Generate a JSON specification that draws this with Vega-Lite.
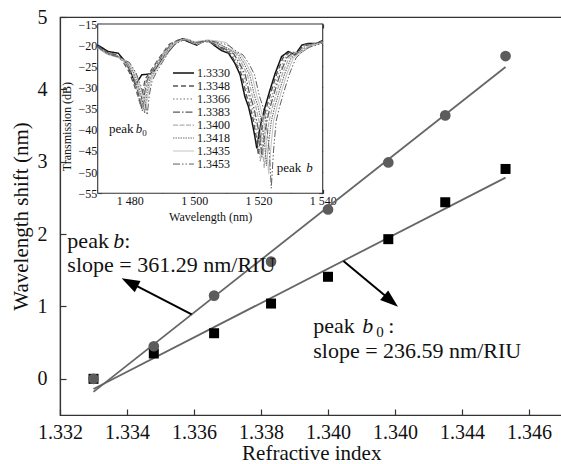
{
"$schema": "https://vega.github.io/schema/vega-lite/v6.json",
"autosize": {"type": "none"},
"padding": {"left": 60, "top": 17, "right": 0, "bottom": 49},
"width": 502.5,
"height": 398,
"background": "white",
"config": {
  "view": {"stroke": "#333", "strokeWidth": 1.2},
  "font": "Liberation Serif",
  "axis": {"grid": false, "domainColor": "#333", "domainWidth": 1.2, "tickColor": "#333", "tickWidth": 1.2, "labelColor": "#111", "titleColor": "#111", "labelFont": "Liberation Serif", "titleFont": "Liberation Serif", "titleFontWeight": "normal", "labelFlush": false, "labelOverlap": false}
},
"datasets": {
  "fits": [
    {"s": "b", "n": 1.3330, "v": -0.18}, {"s": "b", "n": 1.3453, "v": 4.31},
    {"s": "b0", "n": 1.3330, "v": -0.14}, {"s": "b0", "n": 1.3453, "v": 2.78}
  ],
  "pts": [
    {"n": 1.3330, "b": 0, "b0": 0},
    {"n": 1.3348, "b": 0.45, "b0": 0.35},
    {"n": 1.3366, "b": 1.15, "b0": 0.63},
    {"n": 1.3383, "b": 1.62, "b0": 1.04},
    {"n": 1.3400, "b": 2.34, "b0": 1.41},
    {"n": 1.3418, "b": 2.99, "b0": 1.93},
    {"n": 1.3435, "b": 3.64, "b0": 2.44},
    {"n": 1.3453, "b": 4.46, "b0": 2.90}
  ],
  "spec": [
    {"n":"1.3330","w":1470,"t":-20},{"n":"1.3330","w":1473.3,"t":-21.5},{"n":"1.3330","w":1476.4,"t":-21.9},{"n":"1.3330","w":1479,"t":-24.3},{"n":"1.3330","w":1480.6,"t":-27},{"n":"1.3330","w":1481.8,"t":-29.4},{"n":"1.3330","w":1482.4,"t":-28.6},{"n":"1.3330","w":1483.7,"t":-27},{"n":"1.3330","w":1486.3,"t":-26.8},{"n":"1.3330","w":1487.8,"t":-25.9},{"n":"1.3330","w":1489.9,"t":-23.5},{"n":"1.3330","w":1492.5,"t":-21},{"n":"1.3330","w":1494.6,"t":-19.2},{"n":"1.3330","w":1496.3,"t":-18.5},{"n":"1.3330","w":1498.2,"t":-19.2},{"n":"1.3330","w":1500.8,"t":-20},{"n":"1.3330","w":1502.4,"t":-19.2},{"n":"1.3330","w":1504.4,"t":-18.9},{"n":"1.3330","w":1506.5,"t":-20.2},{"n":"1.3330","w":1508.6,"t":-21.3},{"n":"1.3330","w":1510.7,"t":-21.9},{"n":"1.3330","w":1512.7,"t":-24.3},{"n":"1.3330","w":1514.3,"t":-27},{"n":"1.3330","w":1515.8,"t":-32.2},{"n":"1.3330","w":1516.9,"t":-34.5},{"n":"1.3330","w":1517.9,"t":-37.7},{"n":"1.3330","w":1518.9,"t":-41.6},{"n":"1.3330","w":1519.5,"t":-44.4},{"n":"1.3330","w":1520.2,"t":-40.8},{"n":"1.3330","w":1521,"t":-37.7},{"n":"1.3330","w":1522.1,"t":-34.5},{"n":"1.3330","w":1523.6,"t":-30.6},{"n":"1.3330","w":1525.2,"t":-26.7},{"n":"1.3330","w":1527.2,"t":-22.7},{"n":"1.3330","w":1529.3,"t":-21.5},{"n":"1.3330","w":1531.4,"t":-22.3},{"n":"1.3330","w":1533.5,"t":-20},{"n":"1.3330","w":1535.5,"t":-19.6},{"n":"1.3330","w":1538.1,"t":-19.6},{"n":"1.3330","w":1540,"t":-18.9},

    {"n":"1.3348","w":1470,"t":-20.2},{"n":"1.3348","w":1473,"t":-21.8},{"n":"1.3348","w":1476,"t":-22.3},{"n":"1.3348","w":1477.8,"t":-23.8},{"n":"1.3348","w":1479.8,"t":-26.3},{"n":"1.3348","w":1481.3,"t":-29.3},{"n":"1.3348","w":1482.3,"t":-31.5},{"n":"1.3348","w":1483.3,"t":-34},{"n":"1.3348","w":1484.0,"t":-31},{"n":"1.3348","w":1484.8,"t":-28},{"n":"1.3348","w":1486.3,"t":-26.3},{"n":"1.3348","w":1488.3,"t":-24},{"n":"1.3348","w":1490.3,"t":-21.8},{"n":"1.3348","w":1492.3,"t":-19.8},{"n":"1.3348","w":1495,"t":-18.8},{"n":"1.3348","w":1497,"t":-18.6},{"n":"1.3348","w":1499,"t":-19.3},{"n":"1.3348","w":1501,"t":-19.8},{"n":"1.3348","w":1503,"t":-19},{"n":"1.3348","w":1505,"t":-19.2},{"n":"1.3348","w":1509.1,"t":-21},{"n":"1.3348","w":1511.2,"t":-22},{"n":"1.3348","w":1513,"t":-24.3},{"n":"1.3348","w":1514.8,"t":-27},{"n":"1.3348","w":1516.3,"t":-32},{"n":"1.3348","w":1517.4,"t":-34.5},{"n":"1.3348","w":1518.4,"t":-37.7},{"n":"1.3348","w":1519.4,"t":-42},{"n":"1.3348","w":1520,"t":-46},{"n":"1.3348","w":1520.7,"t":-41.5},{"n":"1.3348","w":1521.5,"t":-37.7},{"n":"1.3348","w":1522.6,"t":-34.5},{"n":"1.3348","w":1524.1,"t":-30.6},{"n":"1.3348","w":1525.7,"t":-26.7},{"n":"1.3348","w":1527.7,"t":-22.9},{"n":"1.3348","w":1529.8,"t":-21.6},{"n":"1.3348","w":1531.9,"t":-22.2},{"n":"1.3348","w":1534,"t":-20},{"n":"1.3348","w":1536,"t":-19.7},{"n":"1.3348","w":1538,"t":-19.6},{"n":"1.3348","w":1540,"t":-19},

    {"n":"1.3366","w":1470,"t":-20.5},{"n":"1.3366","w":1473,"t":-22},{"n":"1.3366","w":1476,"t":-22.6},{"n":"1.3366","w":1478.1,"t":-23.8},{"n":"1.3366","w":1480.1,"t":-26.2},{"n":"1.3366","w":1481.6,"t":-29.3},{"n":"1.3366","w":1482.6,"t":-31.8},{"n":"1.3366","w":1483.6,"t":-35},{"n":"1.3366","w":1484.3,"t":-31.5},{"n":"1.3366","w":1485.1,"t":-28.2},{"n":"1.3366","w":1486.6,"t":-26.2},{"n":"1.3366","w":1488.6,"t":-24},{"n":"1.3366","w":1490.6,"t":-21.6},{"n":"1.3366","w":1492.6,"t":-19.8},{"n":"1.3366","w":1495,"t":-18.8},{"n":"1.3366","w":1497,"t":-18.5},{"n":"1.3366","w":1499,"t":-19.2},{"n":"1.3366","w":1501,"t":-19.9},{"n":"1.3366","w":1503,"t":-19},{"n":"1.3366","w":1505,"t":-19.3},{"n":"1.3366","w":1509.7,"t":-21},{"n":"1.3366","w":1511.8,"t":-22},{"n":"1.3366","w":1513.6,"t":-24.3},{"n":"1.3366","w":1515.4,"t":-27},{"n":"1.3366","w":1516.9,"t":-32},{"n":"1.3366","w":1518,"t":-34.5},{"n":"1.3366","w":1519,"t":-38},{"n":"1.3366","w":1520,"t":-42.5},{"n":"1.3366","w":1520.6,"t":-47.5},{"n":"1.3366","w":1521.3,"t":-42},{"n":"1.3366","w":1522.1,"t":-38},{"n":"1.3366","w":1523.2,"t":-34.5},{"n":"1.3366","w":1524.7,"t":-30.6},{"n":"1.3366","w":1526.3,"t":-26.7},{"n":"1.3366","w":1528.3,"t":-23},{"n":"1.3366","w":1530.4,"t":-21.7},{"n":"1.3366","w":1532.5,"t":-22},{"n":"1.3366","w":1534.6,"t":-20},{"n":"1.3366","w":1537,"t":-19.8},{"n":"1.3366","w":1540,"t":-19.2},

    {"n":"1.3383","w":1470,"t":-20.3},{"n":"1.3383","w":1473,"t":-21.9},{"n":"1.3383","w":1476,"t":-22.5},{"n":"1.3383","w":1478.4,"t":-23.8},{"n":"1.3383","w":1480.4,"t":-26.3},{"n":"1.3383","w":1481.9,"t":-29.4},{"n":"1.3383","w":1482.9,"t":-32},{"n":"1.3383","w":1483.9,"t":-35.5},{"n":"1.3383","w":1484.6,"t":-31.5},{"n":"1.3383","w":1485.4,"t":-28.3},{"n":"1.3383","w":1486.9,"t":-26.2},{"n":"1.3383","w":1488.9,"t":-24},{"n":"1.3383","w":1490.9,"t":-21.5},{"n":"1.3383","w":1492.9,"t":-19.8},{"n":"1.3383","w":1495,"t":-18.9},{"n":"1.3383","w":1497,"t":-18.6},{"n":"1.3383","w":1499,"t":-19.3},{"n":"1.3383","w":1501,"t":-19.9},{"n":"1.3383","w":1503,"t":-19.1},{"n":"1.3383","w":1505,"t":-19.3},{"n":"1.3383","w":1510.2,"t":-21.1},{"n":"1.3383","w":1512.3,"t":-22},{"n":"1.3383","w":1514.1,"t":-24.3},{"n":"1.3383","w":1515.9,"t":-27},{"n":"1.3383","w":1517.4,"t":-32},{"n":"1.3383","w":1518.5,"t":-34.5},{"n":"1.3383","w":1519.5,"t":-38},{"n":"1.3383","w":1520.5,"t":-42},{"n":"1.3383","w":1521.1,"t":-46.5},{"n":"1.3383","w":1521.8,"t":-42},{"n":"1.3383","w":1522.6,"t":-38},{"n":"1.3383","w":1523.7,"t":-34.5},{"n":"1.3383","w":1525.2,"t":-30.6},{"n":"1.3383","w":1526.8,"t":-26.7},{"n":"1.3383","w":1528.8,"t":-23},{"n":"1.3383","w":1530.9,"t":-21.7},{"n":"1.3383","w":1533,"t":-21.8},{"n":"1.3383","w":1535,"t":-20},{"n":"1.3383","w":1537.5,"t":-19.8},{"n":"1.3383","w":1540,"t":-19.2},

    {"n":"1.3400","w":1470,"t":-20.6},{"n":"1.3400","w":1473,"t":-22.1},{"n":"1.3400","w":1476,"t":-22.7},{"n":"1.3400","w":1478.7,"t":-23.9},{"n":"1.3400","w":1480.7,"t":-26.3},{"n":"1.3400","w":1482.2,"t":-29.3},{"n":"1.3400","w":1483.2,"t":-31.8},{"n":"1.3400","w":1484.2,"t":-35},{"n":"1.3400","w":1484.9,"t":-31.3},{"n":"1.3400","w":1485.7,"t":-28.3},{"n":"1.3400","w":1487.2,"t":-26.2},{"n":"1.3400","w":1489.2,"t":-23.9},{"n":"1.3400","w":1491.2,"t":-21.5},{"n":"1.3400","w":1493.2,"t":-19.7},{"n":"1.3400","w":1495.5,"t":-18.9},{"n":"1.3400","w":1497.5,"t":-18.6},{"n":"1.3400","w":1499.5,"t":-19.4},{"n":"1.3400","w":1501.5,"t":-19.6},{"n":"1.3400","w":1503.5,"t":-19},{"n":"1.3400","w":1505.5,"t":-19.2},{"n":"1.3400","w":1508,"t":-19.8},{"n":"1.3400","w":1510.9,"t":-21.1},{"n":"1.3400","w":1513,"t":-22},{"n":"1.3400","w":1514.8,"t":-24.3},{"n":"1.3400","w":1516.6,"t":-27},{"n":"1.3400","w":1518.1,"t":-32},{"n":"1.3400","w":1519.2,"t":-34.5},{"n":"1.3400","w":1520.2,"t":-38},{"n":"1.3400","w":1521.2,"t":-43},{"n":"1.3400","w":1521.8,"t":-49},{"n":"1.3400","w":1522.5,"t":-43},{"n":"1.3400","w":1523.3,"t":-38},{"n":"1.3400","w":1524.4,"t":-34.5},{"n":"1.3400","w":1525.9,"t":-30.6},{"n":"1.3400","w":1527.5,"t":-26.7},{"n":"1.3400","w":1529.5,"t":-23},{"n":"1.3400","w":1531.6,"t":-21.7},{"n":"1.3400","w":1533.7,"t":-21.6},{"n":"1.3400","w":1535.8,"t":-20},{"n":"1.3400","w":1538,"t":-19.8},{"n":"1.3400","w":1540,"t":-19.3},

    {"n":"1.3418","w":1470,"t":-20.4},{"n":"1.3418","w":1473,"t":-22},{"n":"1.3418","w":1476,"t":-22.6},{"n":"1.3418","w":1479.1,"t":-24},{"n":"1.3418","w":1481.1,"t":-26.4},{"n":"1.3418","w":1482.6,"t":-29.4},{"n":"1.3418","w":1483.6,"t":-32},{"n":"1.3418","w":1484.6,"t":-36},{"n":"1.3418","w":1485.3,"t":-31.5},{"n":"1.3418","w":1486.1,"t":-28.4},{"n":"1.3418","w":1487.6,"t":-26.2},{"n":"1.3418","w":1489.6,"t":-23.8},{"n":"1.3418","w":1491.6,"t":-21.4},{"n":"1.3418","w":1493.6,"t":-19.7},{"n":"1.3418","w":1495.8,"t":-18.9},{"n":"1.3418","w":1497.8,"t":-18.6},{"n":"1.3418","w":1500,"t":-19.5},{"n":"1.3418","w":1502,"t":-19.4},{"n":"1.3418","w":1504,"t":-19},{"n":"1.3418","w":1506,"t":-19.3},{"n":"1.3418","w":1508.5,"t":-20},{"n":"1.3418","w":1511.6,"t":-21.2},{"n":"1.3418","w":1513.7,"t":-22.1},{"n":"1.3418","w":1515.5,"t":-24.3},{"n":"1.3418","w":1517.3,"t":-27},{"n":"1.3418","w":1518.8,"t":-32},{"n":"1.3418","w":1519.9,"t":-34.5},{"n":"1.3418","w":1520.9,"t":-38},{"n":"1.3418","w":1521.9,"t":-43},{"n":"1.3418","w":1522.5,"t":-48.5},{"n":"1.3418","w":1523.2,"t":-43},{"n":"1.3418","w":1524,"t":-38},{"n":"1.3418","w":1525.1,"t":-34.5},{"n":"1.3418","w":1526.6,"t":-30.6},{"n":"1.3418","w":1528.2,"t":-26.7},{"n":"1.3418","w":1530.2,"t":-23},{"n":"1.3418","w":1532.3,"t":-21.7},{"n":"1.3418","w":1534.4,"t":-21.2},{"n":"1.3418","w":1536.5,"t":-20},{"n":"1.3418","w":1538.5,"t":-19.8},{"n":"1.3418","w":1540,"t":-19.3},

    {"n":"1.3435","w":1470,"t":-20.7},{"n":"1.3435","w":1473,"t":-22.2},{"n":"1.3435","w":1476,"t":-22.8},{"n":"1.3435","w":1479.5,"t":-24},{"n":"1.3435","w":1481.5,"t":-26.4},{"n":"1.3435","w":1483,"t":-29.3},{"n":"1.3435","w":1484,"t":-31.8},{"n":"1.3435","w":1485,"t":-35},{"n":"1.3435","w":1485.7,"t":-31.3},{"n":"1.3435","w":1486.5,"t":-28.3},{"n":"1.3435","w":1488,"t":-26.1},{"n":"1.3435","w":1490,"t":-23.7},{"n":"1.3435","w":1492,"t":-21.3},{"n":"1.3435","w":1494,"t":-19.6},{"n":"1.3435","w":1496,"t":-18.9},{"n":"1.3435","w":1498,"t":-18.6},{"n":"1.3435","w":1500,"t":-19.2},{"n":"1.3435","w":1502,"t":-19},{"n":"1.3435","w":1504,"t":-18.8},{"n":"1.3435","w":1506,"t":-18.9},{"n":"1.3435","w":1508,"t":-19.1},{"n":"1.3435","w":1510,"t":-19.4},{"n":"1.3435","w":1512.3,"t":-21.3},{"n":"1.3435","w":1514.4,"t":-22.2},{"n":"1.3435","w":1516.2,"t":-24.3},{"n":"1.3435","w":1518,"t":-27},{"n":"1.3435","w":1519.5,"t":-32},{"n":"1.3435","w":1520.6,"t":-34.5},{"n":"1.3435","w":1521.6,"t":-38},{"n":"1.3435","w":1522.6,"t":-44},{"n":"1.3435","w":1523.2,"t":-50.5},{"n":"1.3435","w":1523.9,"t":-44},{"n":"1.3435","w":1524.7,"t":-38},{"n":"1.3435","w":1525.8,"t":-34.5},{"n":"1.3435","w":1527.3,"t":-30.6},{"n":"1.3435","w":1528.9,"t":-26.7},{"n":"1.3435","w":1530.9,"t":-23},{"n":"1.3435","w":1533,"t":-21.7},{"n":"1.3435","w":1535,"t":-20.8},{"n":"1.3435","w":1537,"t":-20},{"n":"1.3435","w":1540,"t":-19.5},

    {"n":"1.3453","w":1470,"t":-20.5},{"n":"1.3453","w":1473,"t":-22.1},{"n":"1.3453","w":1476,"t":-22.7},{"n":"1.3453","w":1479.9,"t":-24.1},{"n":"1.3453","w":1481.9,"t":-26.5},{"n":"1.3453","w":1483.4,"t":-29.5},{"n":"1.3453","w":1484.4,"t":-32.2},{"n":"1.3453","w":1485.4,"t":-36.5},{"n":"1.3453","w":1486.1,"t":-31.6},{"n":"1.3453","w":1486.9,"t":-28.5},{"n":"1.3453","w":1488.4,"t":-26.2},{"n":"1.3453","w":1490.4,"t":-23.7},{"n":"1.3453","w":1492.4,"t":-21.3},{"n":"1.3453","w":1494.4,"t":-19.6},{"n":"1.3453","w":1496.4,"t":-18.9},{"n":"1.3453","w":1498.4,"t":-18.7},{"n":"1.3453","w":1500.5,"t":-19.4},{"n":"1.3453","w":1502.5,"t":-19.1},{"n":"1.3453","w":1504.5,"t":-18.9},{"n":"1.3453","w":1506.5,"t":-19.2},{"n":"1.3453","w":1509,"t":-19.6},{"n":"1.3453","w":1511,"t":-20.2},{"n":"1.3453","w":1513.1,"t":-21.4},{"n":"1.3453","w":1515.2,"t":-22.3},{"n":"1.3453","w":1517,"t":-24.3},{"n":"1.3453","w":1518.8,"t":-27},{"n":"1.3453","w":1520.3,"t":-32},{"n":"1.3453","w":1521.4,"t":-34.5},{"n":"1.3453","w":1522.4,"t":-38},{"n":"1.3453","w":1523.4,"t":-45},{"n":"1.3453","w":1524,"t":-53.8},{"n":"1.3453","w":1524.7,"t":-45},{"n":"1.3453","w":1525.5,"t":-38},{"n":"1.3453","w":1526.6,"t":-34.5},{"n":"1.3453","w":1528.1,"t":-30.6},{"n":"1.3453","w":1529.7,"t":-26.7},{"n":"1.3453","w":1531.7,"t":-23},{"n":"1.3453","w":1533.8,"t":-21.5},{"n":"1.3453","w":1535.8,"t":-20.5},{"n":"1.3453","w":1538,"t":-20},{"n":"1.3453","w":1540,"t":-19.5}
  ]
},
"layer": [
  {
    "layer": [
      {"data": {"name": "fits"}, "mark": {"type": "line", "color": "#666", "strokeWidth": 1.8},
       "encoding": {
         "x": {"field": "n", "type": "quantitative", "scale": {"domain": [1.332, 1.347], "nice": false, "zero": false},
           "axis": {"orient": "bottom", "values": [1.332, 1.334, 1.336, 1.338, 1.340, 1.342, 1.344, 1.346], "labelExpr": "abs(datum.value - 1.342) < 0.0001 ? '1.340' : format(datum.value, '.3f')", "title": "Refractive index", "tickSize": -6, "labelPadding": 13, "labelFontSize": 20, "titleFontSize": 21, "titleY": 27.3, "titleBaseline": "top"}},
         "y": {"field": "v", "type": "quantitative", "scale": {"domain": [-0.5, 5], "nice": false, "zero": false},
           "axis": {"orient": "left", "values": [0, 1, 2, 3, 4, 5], "format": "d", "title": "Wavelength shift (nm)", "tickSize": -6, "labelPadding": 19, "labelFontSize": 20, "titleFontSize": 21, "titleX": -28.6, "titleY": 199}},
         "detail": {"field": "s"}
       }},
      {"data": {"name": "pts"}, "mark": {"type": "point", "shape": "square", "filled": true, "color": "#000", "size": 100, "opacity": 1},
       "encoding": {"x": {"field": "n", "type": "quantitative"}, "y": {"field": "b0", "type": "quantitative"}}},
      {"data": {"name": "pts"}, "mark": {"type": "circle", "color": "#5c5c5c", "size": 115, "opacity": 1},
       "encoding": {"x": {"field": "n", "type": "quantitative"}, "y": {"field": "b", "type": "quantitative"}}},
      {"data": {"values": [{}]}, "mark": {"type": "rule", "color": "#000", "strokeWidth": 2},
       "encoding": {"x": {"datum": 1.33593, "type": "quantitative"}, "y": {"datum": 0.891, "type": "quantitative"}, "x2": {"datum": 1.33411}, "y2": {"datum": 1.327}}},
      {"data": {"values": [{}]}, "mark": {"type": "rule", "color": "#000", "strokeWidth": 2},
       "encoding": {"x": {"datum": 1.34046, "type": "quantitative"}, "y": {"datum": 1.628, "type": "quantitative"}, "x2": {"datum": 1.34187}, "y2": {"datum": 1.085}}},
      {"data": {"values": [{}]}, "mark": {"type": "point", "shape": "M0,0L-0.7,2L0.7,2Z", "filled": true, "color": "#000", "opacity": 1, "size": 324, "angle": 297.2, "strokeWidth": 0},
       "encoding": {"x": {"datum": 1.33384, "type": "quantitative"}, "y": {"datum": 1.389, "type": "quantitative"}}},
      {"data": {"values": [{}]}, "mark": {"type": "point", "shape": "M0,0L-0.7,2L0.7,2Z", "filled": true, "color": "#000", "opacity": 1, "size": 324, "angle": 129.7, "strokeWidth": 0},
       "encoding": {"x": {"datum": 1.34209, "type": "quantitative"}, "y": {"datum": 0.996, "type": "quantitative"}}},
      {"data": {"values": [{}]}, "mark": {"type": "text", "text": "peak", "align": "left", "baseline": "alphabetic", "fontSize": 22, "color": "#111"},
       "encoding": {"x": {"datum": 1.33222, "type": "quantitative"}, "y": {"datum": 1.808, "type": "quantitative"}}},
      {"data": {"values": [{}]}, "mark": {"type": "text", "text": "b", "fontStyle": "italic", "align": "left", "baseline": "alphabetic", "fontSize": 22, "color": "#111", "dx": 46},
       "encoding": {"x": {"datum": 1.33222, "type": "quantitative"}, "y": {"datum": 1.808, "type": "quantitative"}}},
      {"data": {"values": [{}]}, "mark": {"type": "text", "text": ":", "align": "left", "baseline": "alphabetic", "fontSize": 22, "color": "#111", "dx": 57},
       "encoding": {"x": {"datum": 1.33222, "type": "quantitative"}, "y": {"datum": 1.808, "type": "quantitative"}}},
      {"data": {"values": [{}]}, "mark": {"type": "text", "text": "slope = 361.29 nm/RIU", "align": "left", "baseline": "alphabetic", "fontSize": 22, "color": "#111"},
       "encoding": {"x": {"datum": 1.33222, "type": "quantitative"}, "y": {"datum": 1.48, "type": "quantitative"}}},
      {"data": {"values": [{}]}, "mark": {"type": "text", "text": "peak", "align": "left", "baseline": "alphabetic", "fontSize": 22, "color": "#111"},
       "encoding": {"x": {"datum": 1.33956, "type": "quantitative"}, "y": {"datum": 0.629, "type": "quantitative"}}},
      {"data": {"values": [{}]}, "mark": {"type": "text", "text": "b", "fontStyle": "italic", "align": "left", "baseline": "alphabetic", "fontSize": 22, "color": "#111", "dx": 49},
       "encoding": {"x": {"datum": 1.33956, "type": "quantitative"}, "y": {"datum": 0.629, "type": "quantitative"}}},
      {"data": {"values": [{}]}, "mark": {"type": "text", "text": "0", "align": "left", "baseline": "alphabetic", "fontSize": 15, "color": "#111", "dx": 63, "dy": 4},
       "encoding": {"x": {"datum": 1.33956, "type": "quantitative"}, "y": {"datum": 0.629, "type": "quantitative"}}},
      {"data": {"values": [{}]}, "mark": {"type": "text", "text": ":", "align": "left", "baseline": "alphabetic", "fontSize": 22, "color": "#111", "dx": 75},
       "encoding": {"x": {"datum": 1.33956, "type": "quantitative"}, "y": {"datum": 0.629, "type": "quantitative"}}},
      {"data": {"values": [{}]}, "mark": {"type": "text", "text": "slope = 236.59 nm/RIU", "align": "left", "baseline": "alphabetic", "fontSize": 22, "color": "#111"},
       "encoding": {"x": {"datum": 1.33956, "type": "quantitative"}, "y": {"datum": 0.283, "type": "quantitative"}}}
    ]
  },
  {
    "layer": [
      {"data": {"values": [{}]}, "mark": {"type": "rect", "fill": "white", "stroke": "#333", "strokeWidth": 1.1},
       "encoding": {
         "x": {"datum": 1470, "type": "quantitative", "scale": {"domain": [1470, 1540], "range": [37.7, 262.7], "nice": false, "zero": false},
           "axis": {"orient": "top", "offset": -7, "values": [1470, 1480, 1490, 1500, 1510, 1520, 1530, 1540], "labels": false, "tickSize": -4, "title": null, "domain": false}},
         "x2": {"datum": 1540},
         "y": {"datum": -55, "type": "quantitative", "scale": {"domain": [-55, -15], "range": [176.3, 7], "nice": false, "zero": false},
           "axis": {"orient": "right", "offset": -239.8, "values": [-55, -50, -45, -40, -35, -30, -25, -20, -15], "labels": false, "tickSize": -4, "title": null, "domain": false}},
         "y2": {"datum": -15}
       }},
      {"data": {"name": "spec"}, "mark": {"type": "line", "interpolate": "linear"},
       "encoding": {
         "x": {"field": "w", "type": "quantitative",
           "axis": {"orient": "bottom", "offset": -221.7, "values": [1470, 1480, 1490, 1500, 1510, 1520, 1530, 1540], "labelExpr": "datum.value % 20 == 0 ? substring(toString(datum.value), 0, 1) + ' ' + substring(toString(datum.value), 1) : ''", "tickSize": -4, "labelPadding": 6, "labelFontSize": 12, "title": "Wavelength (nm)", "titleFontSize": 12, "titleY": 18.5, "titleBaseline": "top", "domain": false}},
         "y": {"field": "t", "type": "quantitative",
           "axis": {"orient": "left", "offset": -37.7, "values": [-55, -50, -45, -40, -35, -30, -25, -20, -15], "tickSize": -4, "labelPadding": 5, "labelFontSize": 12, "title": "Transmission (dB)", "titleFontSize": 12, "titleX": -24, "titleY": 109, "domain": false}},
         "color": {"field": "n", "type": "nominal",
           "scale": {"domain": ["1.3330", "1.3348", "1.3366", "1.3383", "1.3400", "1.3418", "1.3435", "1.3453"], "range": ["#111111", "#555555", "#a0a0a0", "#5a5a5a", "#b0b0b0", "#707070", "#c4c4c4", "#606060"]},
           "legend": {"orient": "none", "legendX": 112, "legendY": 50, "title": null, "labelFont": "Liberation Serif", "labelFontSize": 12, "labelColor": "#111", "symbolType": "stroke", "symbolSize": 441, "symbolStrokeWidth": 1.2, "rowPadding": 0, "clipHeight": 12.1, "labelOffset": 2, "padding": 0}},
         "strokeDash": {"field": "n", "type": "nominal",
           "scale": {"domain": ["1.3330", "1.3348", "1.3366", "1.3383", "1.3400", "1.3418", "1.3435", "1.3453"], "range": [[1, 0], [5, 3], [1.5, 2], [7, 2, 1.5, 2], [5, 1.5], [1.5, 1], [1, 0], [7, 2, 1.5, 2, 1.5, 2]]},
           "legend": {"orient": "none", "legendX": 112, "legendY": 50, "title": null, "labelFont": "Liberation Serif", "labelFontSize": 12, "labelColor": "#111", "symbolType": "stroke", "symbolSize": 441, "symbolStrokeWidth": 1.2, "rowPadding": 0, "clipHeight": 12.1, "labelOffset": 2, "padding": 0}},
         "strokeWidth": {"field": "n", "type": "ordinal",
           "scale": {"domain": ["1.3330", "1.3348", "1.3366", "1.3383", "1.3400", "1.3418", "1.3435", "1.3453"], "range": [1.5, 1, 1, 1, 1, 1, 1, 1]}, "legend": null}
       }},
      {"data": {"values": [{}]}, "mark": {"type": "text", "text": "peak", "align": "left", "baseline": "alphabetic", "fontSize": 13, "color": "#111"},
       "encoding": {"x": {"datum": 1473.5, "type": "quantitative", "axis": null}, "y": {"datum": -40.8, "type": "quantitative", "axis": null}}},
      {"data": {"values": [{}]}, "mark": {"type": "text", "text": "b", "fontStyle": "italic", "align": "left", "baseline": "alphabetic", "fontSize": 13, "color": "#111", "dx": 26.7},
       "encoding": {"x": {"datum": 1473.5, "type": "quantitative", "axis": null}, "y": {"datum": -40.8, "type": "quantitative", "axis": null}}},
      {"data": {"values": [{}]}, "mark": {"type": "text", "text": "0", "align": "left", "baseline": "alphabetic", "fontSize": 9, "color": "#111", "dx": 33.2, "dy": 3},
       "encoding": {"x": {"datum": 1473.5, "type": "quantitative", "axis": null}, "y": {"datum": -40.8, "type": "quantitative", "axis": null}}},
      {"data": {"values": [{}]}, "mark": {"type": "text", "text": "peak", "align": "left", "baseline": "alphabetic", "fontSize": 13, "color": "#111"},
       "encoding": {"x": {"datum": 1525.7, "type": "quantitative", "axis": null}, "y": {"datum": -49.9, "type": "quantitative", "axis": null}}},
      {"data": {"values": [{}]}, "mark": {"type": "text", "text": "b", "fontStyle": "italic", "align": "left", "baseline": "alphabetic", "fontSize": 13, "color": "#111", "dx": 29.5},
       "encoding": {"x": {"datum": 1525.7, "type": "quantitative", "axis": null}, "y": {"datum": -49.9, "type": "quantitative", "axis": null}}}
    ],
    "resolve": {"axis": {"x": "independent", "y": "independent"}}
  }
],
"resolve": {"scale": {"x": "independent", "y": "independent"}, "axis": {"x": "independent", "y": "independent"}}
}
